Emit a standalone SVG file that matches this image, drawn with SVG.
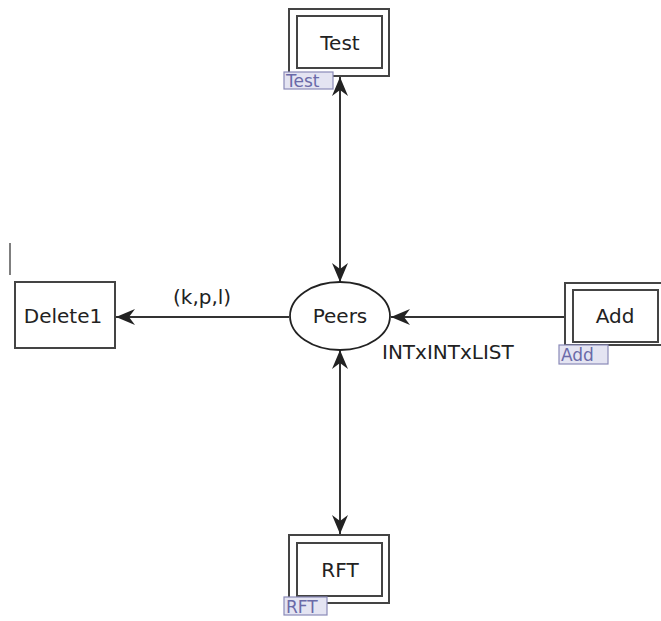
<svg xmlns="http://www.w3.org/2000/svg" width="661" height="621" viewBox="0 0 661 621">
<style>
  .box{fill:#fff;stroke:#444;stroke-width:2}
  .lbl{font-family:"DejaVu Sans",Verdana,sans-serif;font-size:20px;fill:#222;text-anchor:middle}
  .tag{fill:#e4e4f2;stroke:#8a8ab8;stroke-width:1.2}
  .tagt{font-family:"DejaVu Sans",Verdana,sans-serif;font-size:17px;fill:#6a6aa8}
  .arc{stroke:#333;stroke-width:2;fill:none}
  .al{font-family:"DejaVu Sans",Verdana,sans-serif;font-size:20px;fill:#222}
</style>
<defs>
  <marker id="ah" markerUnits="userSpaceOnUse" markerWidth="22" markerHeight="20" refX="19" refY="8" orient="auto-start-reverse">
    <path d="M19,8 L0,0 L6,8 L0,16 Z" fill="#222"/>
  </marker>
</defs>
<rect width="661" height="621" fill="#fff"/>
<line x1="10" y1="243" x2="10" y2="275" stroke="#555" stroke-width="1.5"/>
<g id="connectors">
  <line class="arc" x1="340" y1="77" x2="340" y2="282" marker-start="url(#ah)" marker-end="url(#ah)"/>
  <line class="arc" x1="340" y1="350" x2="340" y2="534" marker-start="url(#ah)" marker-end="url(#ah)"/>
  <line class="arc" x1="289" y1="317" x2="116" y2="317" marker-end="url(#ah)"/>
  <text class="al" x="173" y="304">(k,p,l)</text>
  <line class="arc" x1="565" y1="317" x2="391" y2="317" marker-end="url(#ah)"/>
  <text class="al" x="382" y="359">INTxINTxLIST</text>
</g>
<g id="Peers">
  <ellipse cx="340" cy="316" rx="50" ry="34" fill="#fff" stroke="#222" stroke-width="1.8"/>
  <text class="lbl" x="340" y="323">Peers</text>
</g>
<g id="Test">
  <rect class="box" x="289" y="9" width="100" height="67"/>
  <rect class="box" x="297" y="16" width="85" height="52"/>
  <text class="lbl" x="340" y="50">Test</text>
  <rect class="tag" x="284" y="72" width="49" height="17"/>
  <text class="tagt" x="286" y="87">Test</text>
</g>
<g id="Delete1">
  <rect class="box" x="15" y="282" width="100" height="66"/>
  <text class="lbl" x="63" y="323">Delete1</text>
</g>
<g id="Add">
  <rect class="box" x="565" y="283" width="100" height="62"/>
  <rect class="box" x="573" y="290" width="85" height="52"/>
  <text class="lbl" x="615" y="323">Add</text>
  <rect class="tag" x="559" y="345" width="49" height="19"/>
  <text class="tagt" x="561" y="361">Add</text>
</g>
<g id="RFT">
  <rect class="box" x="289" y="535" width="100" height="68"/>
  <rect class="box" x="297" y="543" width="85" height="53"/>
  <text class="lbl" x="340" y="577">RFT</text>
  <rect class="tag" x="284" y="597" width="43" height="18"/>
  <text class="tagt" x="286" y="613">RFT</text>
</g>
</svg>
